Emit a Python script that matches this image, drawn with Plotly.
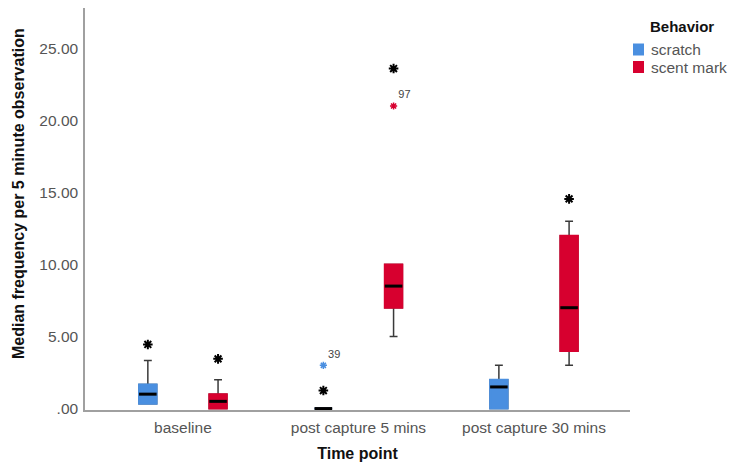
import plotly.graph_objects as go

# Time points on the x axis
categories = ["baseline", "post capture 5 mins", "post capture 30 mins"]

# Box-plot summaries per behaviour (one value per time point)
scratch_q1 = [0.33, 0.0, 0.0]
scratch_median = [1.0, 0.0, 1.5]
scratch_q3 = [1.67, 0.0, 2.0]
scratch_low = [0.33, 0.0, 0.0]
scratch_high = [3.33, 0.0, 3.0]

scent_q1 = [0.0, 7.0, 4.0]
scent_median = [0.5, 8.5, 7.0]
scent_q3 = [1.0, 10.0, 12.0]
scent_low = [0.0, 5.0, 3.0]
scent_high = [2.0, 10.0, 13.0]

# Extreme values with their case numbers
scratch_extreme_cat = [1]
scratch_extreme_val = [3.0]
scratch_extreme_id = ["39"]
scent_extreme_cat = [1]
scent_extreme_val = [21.0]
scent_extreme_id = ["97"]

# Significance asterisks placed above boxes
sig_scratch_cat = [0, 1]
sig_scratch_y = [4.45, 1.25]
sig_scent_cat = [0, 1, 2]
sig_scent_y = [3.45, 23.6, 14.55]

tick_vals = [0, 5, 10, 15, 20, 25]
tick_text = [".00", "5.00", "10.00", "15.00", "20.00", "25.00"]

legend_names = ["scratch", "scent mark"]

BLUE = "#4a8fe0"
RED = "#d7002f"
WHISKER = "#3a3a3a"
OFFSET = 0.2
BOX_W = 0.1
FONT = "Liberation Sans, Arial, sans-serif"

# plot-area geometry in pixels (used for the hand-placed legend)
L, R, T, B = 85, 630, 8, 410


def px_x(px):
    return (px - L) / (R - L)


def px_y(py):
    return (B - py) / (B - T)


fig = go.Figure()

series = [
    (BLUE, -OFFSET, scratch_q1, scratch_median, scratch_q3, scratch_low, scratch_high),
    (RED, OFFSET, scent_q1, scent_median, scent_q3, scent_low, scent_high),
]

for color, off, q1, med, q3, lo, hi in series:
    pos = [i + off for i in range(len(categories))]
    # whiskers with caps
    fig.add_trace(go.Box(
        x=pos, q1=q1, median=med, q3=q3, lowerfence=lo, upperfence=hi,
        width=BOX_W, whiskerwidth=0.45, fillcolor=color,
        line=dict(color=WHISKER, width=1.5), boxpoints=False,
        showlegend=False, hoverinfo="skip",
    ))
    # filled box without dark outline
    fig.add_trace(go.Box(
        x=pos, q1=q1, median=med, q3=q3, lowerfence=q1, upperfence=q3,
        width=BOX_W, whiskerwidth=0, fillcolor=color,
        line=dict(color=color, width=2), boxpoints=False,
        showlegend=False, hoverinfo="skip",
    ))
    # thick black median bars
    mx, my = [], []
    for p, m in zip(pos, med):
        mx += [p - BOX_W / 2, p + BOX_W / 2, None]
        my += [m, m, None]
    fig.add_trace(go.Scatter(
        x=mx, y=my, mode="lines", line=dict(color="black", width=3),
        showlegend=False, hoverinfo="skip",
    ))

# extreme-value stars with case labels
for cats, vals, ids, color, off in [
    (scratch_extreme_cat, scratch_extreme_val, scratch_extreme_id, BLUE, -OFFSET),
    (scent_extreme_cat, scent_extreme_val, scent_extreme_id, RED, OFFSET),
]:
    fig.add_trace(go.Scatter(
        x=[c + off for c in cats], y=vals, mode="markers+text",
        marker=dict(symbol="asterisk-open", size=6, color=color,
                    line=dict(color=color, width=1.5)),
        text=ids, textposition="top right",
        textfont=dict(family=FONT, size=11, color="#444444"),
        showlegend=False, hoverinfo="skip", cliponaxis=False,
    ))

# significance asterisks
for cats, ys, off in [(sig_scratch_cat, sig_scratch_y, -OFFSET), (sig_scent_cat, sig_scent_y, OFFSET)]:
    fig.add_trace(go.Scatter(
        x=[c + off for c in cats], y=ys, mode="markers",
        marker=dict(symbol="asterisk-open", size=8, color="black",
                    line=dict(color="black", width=2)),
        showlegend=False, hoverinfo="skip", cliponaxis=False,
    ))

# legend: title, colour swatches and labels
shapes = []
annotations = [dict(
    text="<b>Behavior</b>", xref="paper", yref="paper",
    x=px_x(682), y=px_y(26), xanchor="center", yanchor="middle",
    showarrow=False, font=dict(family=FONT, size=15, color="#111111"),
)]
for k, (name, color) in enumerate(zip(legend_names, [BLUE, RED])):
    cy = 49.5 + 17.5 * k
    shapes.append(dict(
        type="rect", xref="paper", yref="paper",
        x0=px_x(633), x1=px_x(644), y0=px_y(cy + 6), y1=px_y(cy - 6),
        fillcolor=color, line=dict(width=0),
    ))
    annotations.append(dict(
        text=name, xref="paper", yref="paper",
        x=px_x(649), y=px_y(cy), xanchor="left", yanchor="middle",
        showarrow=False, font=dict(family=FONT, size=15.5, color="#555555"),
    ))

# y-axis title
annotations.append(dict(
    text="<b>Median frequency per 5 minute observation</b>",
    xref="paper", yref="paper", x=px_x(18), y=px_y(194),
    xanchor="center", yanchor="middle", textangle=-90,
    showarrow=False, font=dict(family=FONT, size=16, color="#111111"),
))

fig.update_layout(
    width=729, height=473,
    margin=dict(l=L, r=729 - R, t=T, b=473 - B),
    paper_bgcolor="white", plot_bgcolor="white",
    font=dict(family=FONT, size=15.5, color="#555555"),
    boxmode="overlay", showlegend=False,
    xaxis=dict(
        range=[-0.558, 2.547], tickmode="array",
        tickvals=list(range(len(categories))), ticktext=categories,
        showline=True, linecolor="#a0a0a0", linewidth=1.5,
        showgrid=False, zeroline=False, ticks="", ticklabelstandoff=3,
        title=dict(text="<b>Time point</b>", standoff=12,
                   font=dict(family=FONT, size=16, color="#111111")),
    ),
    yaxis=dict(
        range=[-0.1, 27.8], tickmode="array", tickvals=tick_vals, ticktext=tick_text,
        showline=True, linecolor="#a0a0a0", linewidth=1.5,
        showgrid=False, zeroline=False, ticks="", ticklabelstandoff=2,
    ),
    shapes=shapes,
    annotations=annotations,
)

fig.write_html("out.html")
